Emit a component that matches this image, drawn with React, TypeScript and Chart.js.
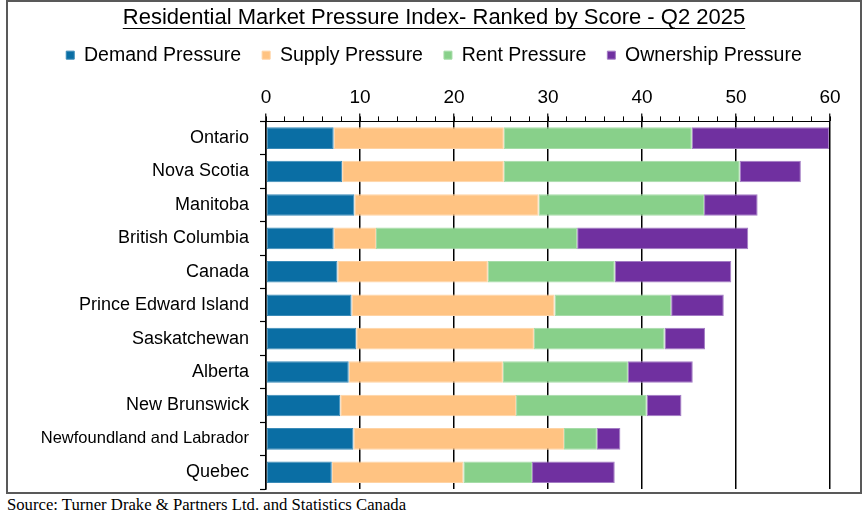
import React, { useEffect, useRef } from "react";
import { Chart, registerables } from "chart.js";

Chart.register(...registerables);

const titleText = "Residential Market Pressure Index- Ranked by Score - Q2 2025";
const sourceText = "Source: Turner Drake & Partners Ltd. and Statistics Canada";

const categories = [
  "Ontario",
  "Nova Scotia",
  "Manitoba",
  "British Columbia",
  "Canada",
  "Prince Edward Island",
  "Saskatchewan",
  "Alberta",
  "New Brunswick",
  "Newfoundland and Labrador",
  "Quebec",
];

const seriesNames = ["Demand Pressure", "Supply Pressure", "Rent Pressure", "Ownership Pressure"];
const demand = [7.2, 8.1, 9.4, 7.2, 7.6, 9.1, 9.6, 8.8, 7.9, 9.3, 7.0];
const supply = [18.1, 17.2, 19.6, 4.5, 16.0, 21.6, 18.9, 16.4, 18.7, 22.4, 14.0];
const rent = [20.0, 25.1, 17.6, 21.4, 13.5, 12.4, 13.9, 13.3, 13.9, 3.5, 7.3];
const ownership = [14.6, 6.5, 5.7, 18.2, 12.4, 5.6, 4.3, 6.9, 3.7, 2.5, 8.8];

const xMin = 0;
const xMax = 60;
const majorStep = 10;
const minorStep = 2;

const colors = ["#0a6ea4", "#ffc382", "#88d08a", "#7030a0"];
const borderColors = ["#3a8bb8", "#ffd3a4", "#a6dca8", "#a37cc4"];

const FONT = '"Liberation Sans", Arial, Helvetica, sans-serif';
const TITLE_SIZE = 22;

const underlinePlugin = {
  id: "titleUnderline",
  afterDraw(chart: any) {
    const tb = chart.titleBlock;
    if (!tb) return;
    const ctx = chart.ctx;
    ctx.save();
    ctx.font = `${TITLE_SIZE}px ${FONT}`;
    const w = ctx.measureText(titleText).width;
    const cx = (tb.left + tb.right) / 2;
    const cy = tb.top + 3 + (TITLE_SIZE * 1.2) / 2;
    const y = Math.round(cy + 10) + 0.5;
    ctx.strokeStyle = "#000";
    ctx.lineWidth = 1;
    ctx.beginPath();
    ctx.moveTo(cx - w / 2, y);
    ctx.lineTo(cx + w / 2, y);
    ctx.stroke();
    ctx.restore();
  },
};

export default function App() {
  const canvasRef = useRef<HTMLCanvasElement | null>(null);

  useEffect(() => {
    if (!canvasRef.current) return;
    const series = [demand, supply, rent, ownership];
    const chart = new Chart(canvasRef.current, {
      type: "bar",
      data: {
        labels: categories,
        datasets: series.map((d, i) => ({
          label: seriesNames[i],
          data: d,
          backgroundColor: colors[i],
          borderColor: borderColors[i],
          borderWidth: 1,
          borderSkipped: false,
          barPercentage: 0.646,
          categoryPercentage: 1,
          xAxisID: "x",
        })),
      },
      plugins: [underlinePlugin],
      options: {
        indexAxis: "y",
        animation: false,
        responsive: true,
        maintainAspectRatio: false,
        layout: { padding: { left: 0, right: 0, top: 0, bottom: 3 } },
        plugins: {
          title: {
            display: true,
            text: titleText,
            color: "#000",
            font: { family: FONT, size: TITLE_SIZE, weight: "normal" },
            padding: { top: 3, bottom: -7 },
          },
          legend: {
            display: true,
            position: "top",
            labels: {
              color: "#000",
              font: { family: FONT, size: 19.5 },
              boxWidth: 8,
              boxHeight: 8,
              padding: 21,
            },
          },
          tooltip: { enabled: false },
        },
        scales: {
          x: {
            type: "linear",
            position: "top",
            stacked: true,
            min: xMin,
            max: xMax,
            weight: 1,
            ticks: {
              stepSize: majorStep,
              color: "#000",
              font: { family: FONT, size: 19 },
              padding: 4,
              maxRotation: 0,
            },
            grid: {
              color: "#000",
              lineWidth: 1.5,
              tickColor: "#000",
              tickLength: 8,
              tickWidth: 1.2,
            },
            border: { display: true, color: "#000", width: 1 },
            afterFit: (scale: any) => {
              scale.height = 46.5;
              scale.paddingRight = 30;
              scale.paddingLeft = 0;
            },
          },
          x2: {
            type: "linear",
            position: "top",
            min: xMin,
            max: xMax,
            weight: 0,
            ticks: { stepSize: minorStep, display: false },
            grid: {
              drawOnChartArea: false,
              tickColor: "#000",
              tickLength: 5,
              tickWidth: 1,
            },
            border: { display: false },
            afterFit: (scale: any) => {
              scale.height = 0;
              scale.paddingRight = 30;
              scale.paddingLeft = 0;
            },
          },
          y: {
            type: "category",
            stacked: true,
            ticks: {
              color: "#000",
              font: (ctx: any) => ({
                family: FONT,
                size: ctx.index === 9 ? 16.5 : 18,
              }),
              padding: 11,
              autoSkip: false,
            },
            grid: {
              offset: true,
              drawOnChartArea: false,
              tickColor: "#000",
              tickLength: 6,
              tickWidth: 1.2,
            },
            border: { display: true, color: "#000", width: 1.5 },
            afterFit: (scale: any) => {
              scale.width = 258;
              scale.paddingTop = 0;
              scale.paddingBottom = 0;
            },
          },
        },
      },
    } as any);
    return () => chart.destroy();
  }, []);

  return (
    <div style={{ position: "absolute", left: 0, top: 0, width: 864, height: 517, background: "#fff" }}>
      <div
        style={{
          position: "absolute",
          left: 6,
          top: 0,
          width: 852,
          height: 490,
          border: "2px solid #595959",
        }}
      >
        <canvas ref={canvasRef} />
      </div>
      <div
        style={{
          position: "absolute",
          left: 7,
          top: 496,
          fontFamily: '"Liberation Serif", "Times New Roman", serif',
          fontSize: 16.7,
          lineHeight: "18px",
          color: "#000",
          whiteSpace: "nowrap",
        }}
      >
        {sourceText}
      </div>
    </div>
  );
}
